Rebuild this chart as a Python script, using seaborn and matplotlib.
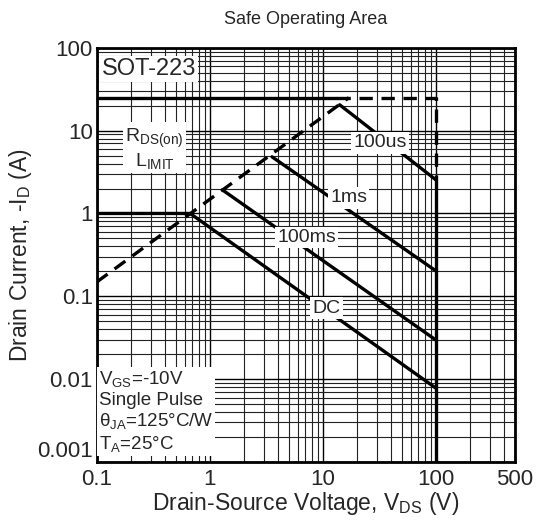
import numpy as np
import pandas as pd
import seaborn as sns
import matplotlib
matplotlib.use('Agg')
import matplotlib.pyplot as plt
from matplotlib.ticker import LogLocator, NullFormatter

# SOA boundary values
limit_solid_v = [0.1, 13.3]
limit_solid_i = [25, 25]
limit_dash_v = [13.3, 100, 100]
limit_dash_i = [25, 25, 2.55]
vmax_v = [100, 100]
vmax_i = [2.55, 0.001]

rds_v = [0.1, 17]
rds_i = [0.149, 25]

us100_v = [14.1, 100]
us100_i = [20.5, 2.55]
ms1_v = [3.55, 100]
ms1_i = [4.83, 0.203]
ms100_v = [1.29, 100]
ms100_i = [1.93, 0.0297]
dc_v = [0.1, 0.67, 100]
dc_i = [1, 1, 0.0078]

x_ticks = [0.1, 1, 10, 100, 500]
x_ticklabels = ["0.1", "1", "10", "100", "500"]
y_ticks = [0.001, 0.01, 0.1, 1, 10, 100]
y_ticklabels = ["0.001", "0.01", "0.1", "1", "10", "100"]

sns.set_style("white")
plt.rcParams['font.family'] = ['Liberation Sans', 'DejaVu Sans']
plt.rcParams['mathtext.default'] = 'regular'

fig = plt.figure(figsize=(5.5, 5.25), dpi=100)
ax = fig.add_axes([0.176, 0.12, 0.76, 0.789])
ax.set_xscale('log')
ax.set_yscale('log')

lw = 2.4
solid = [(limit_solid_v, limit_solid_i), (vmax_v, vmax_i), (us100_v, us100_i),
         (ms1_v, ms1_i), (ms100_v, ms100_i), (dc_v, dc_i)]
dashed = [(limit_dash_v, limit_dash_i), (rds_v, rds_i)]

for xs, ys in solid:
    sns.lineplot(x=xs, y=ys, ax=ax, color='black', lw=lw, estimator=None, sort=False, zorder=3)
for xs, ys in dashed:
    sns.lineplot(x=xs, y=ys, ax=ax, color='black', lw=lw, estimator=None, sort=False,
                 zorder=3).lines[-1].set_dashes([4, 2.6])

ax.set_xlim(0.1, 500)
ax.set_ylim(0.001, 100)
ax.set_xticks(x_ticks)
ax.set_xticklabels(x_ticklabels)
ax.set_yticks(y_ticks)
ax.set_yticklabels(y_ticklabels)
ax.get_yticklabels()[0].set_va('bottom')
ax.xaxis.set_minor_locator(LogLocator(base=10, subs=np.arange(2, 10)))
ax.yaxis.set_minor_locator(LogLocator(base=10, subs=np.arange(2, 10)))
ax.xaxis.set_minor_formatter(NullFormatter())
ax.yaxis.set_minor_formatter(NullFormatter())
ax.tick_params(which='both', length=0, labelsize=16)
ax.tick_params(axis='x', pad=5)
ax.tick_params(axis='y', pad=3)

ax.grid(True, which='major', color='black', lw=1.0, zorder=1)
ax.grid(True, which='minor', color='#222222', lw=0.8, zorder=1)
ax.set_axisbelow(True)
for sp in ax.spines.values():
    sp.set_color('black')
    sp.set_linewidth(2)

ax.set_title("Safe Operating Area", fontsize=13, pad=17)
ax.set_xlabel("Drain-Source Voltage, V$_{DS}$ (V)", fontsize=16.5, labelpad=0)
ax.set_ylabel("Drain Current, -I$_D$ (A)", fontsize=16.5, labelpad=2)

box = dict(facecolor='white', edgecolor='none', pad=1.5)
ax.text(0.11, 55, "SOT-223", fontsize=17, va='center', ha='left', bbox=box, zorder=5)
ax.text(0.326, 6.0, "R$_{DS(on)}$\nL$_{IMIT}$", fontsize=14, va='center', ha='center',
        linespacing=1.05, bbox=box, zorder=5)
ax.text(31.9, 7.1, "100us", fontsize=14, va='center', ha='center', bbox=box, zorder=5)
ax.text(17.0, 1.54, "1ms", fontsize=14, va='center', ha='center', bbox=box, zorder=5)
ax.text(7.2, 0.51, "100ms", fontsize=14, va='center', ha='center', bbox=box, zorder=5)
ax.text(10.8, 0.072, "DC", fontsize=14, va='center', ha='center', bbox=box, zorder=5)
ax.text(0.104, 0.00125, "V$_{GS}$=-10V\nSingle Pulse\nθ$_{JA}$=125°C/W\nT$_A$=25°C",
        fontsize=13.5, va='bottom', ha='left', linespacing=1.18, bbox=box, zorder=5)

fig.savefig("out.png", dpi=100)
